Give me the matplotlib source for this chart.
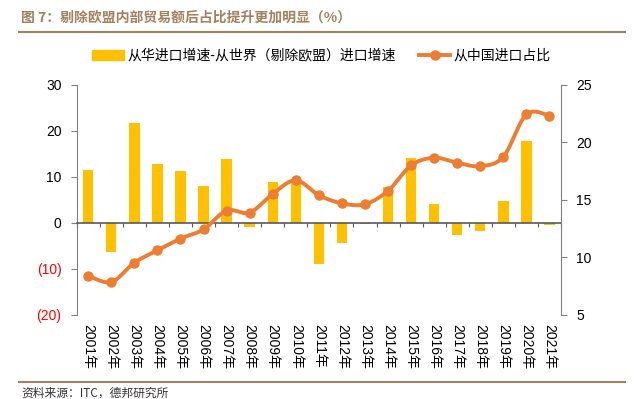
import numpy as np
import matplotlib
matplotlib.use("Agg")
import matplotlib.pyplot as plt
from matplotlib.lines import Line2D
from matplotlib.patches import Patch

plt.rcParams['font.family'] = ['Liberation Sans', 'Noto Sans CJK SC', 'DejaVu Sans']

# 数据
years = [f"{y}年" for y in range(2001, 2022)]
growth_diff = [11.4, -6.3, 21.7, 12.7, 11.2, 8.0, 13.9, -1.0, 8.8, 9.2, -9.0,
               -4.4, -0.3, 7.8, 14.0, 4.0, -2.6, -1.8, 4.7, 17.7, -0.6]
china_share = [8.38, 7.83, 9.51, 10.59, 11.61, 12.42, 14.06, 13.88, 15.51, 16.70, 15.39,
               14.69, 14.61, 15.78, 17.99, 18.66, 18.22, 17.93, 18.75, 22.44, 22.33]
left_ticks = [30, 20, 10, 0, -10, -20]
right_ticks = [25, 20, 15, 10, 5]

bar_label = "从华进口增速-从世界（剔除欧盟）进口增速"
line_label = "从中国进口占比"
title = "图 7：剔除欧盟内部贸易额后占比提升更加明显（%）"
source = "资料来源：ITC，德邦研究所"

BAR = "#FFC000"
LINE = "#ED7D31"
BROWN = "#A3805E"


def smooth(xs, ys, n=20):
    # Excel 风格的平滑折线 (Catmull-Rom -> Bezier)
    p = np.column_stack([xs, ys]).astype(float)
    p = np.vstack([p[0], p, p[-1]])
    out = []
    t = np.linspace(0, 1, n)[:, None]
    for i in range(1, len(p) - 2):
        p0, p1, p2, p3 = p[i - 1], p[i], p[i + 1], p[i + 2]
        c1 = p1 + (p2 - p0) / 6
        c2 = p2 - (p3 - p1) / 6
        seg = ((1 - t) ** 3) * p1 + 3 * ((1 - t) ** 2) * t * c1 + 3 * (1 - t) * t ** 2 * c2 + t ** 3 * p2
        out.append(seg if i == 1 else seg[1:])
    out = np.vstack(out)
    return out[:, 0], out[:, 1]


fig = plt.figure(figsize=(6.37, 3.99), dpi=100)
W, H = 637, 399
ax = fig.add_axes([76.7 / W, 1 - 314.5 / H, (561 - 76.7) / W, (314.5 - 85) / H])
ax2 = ax.twinx()

x = np.arange(len(years))
ax.bar(x, growth_diff, width=0.45, color=BAR, zorder=2)
ax.set_xlim(-0.5, len(years) - 0.5)
ax.set_ylim(-20, 30)

sx, sy = smooth(x, china_share)
ax2.plot(sx, sy, color=LINE, lw=2.8, solid_capstyle='round', zorder=3)
ax2.plot(x, china_share, 'o', color=LINE, ms=6.5, zorder=4)
ax2.set_ylim(5, 25)

# 坐标轴样式
for s in ['top', 'right']:
    ax.spines[s].set_visible(False)
for s in ['top', 'left', 'bottom']:
    ax2.spines[s].set_visible(False)
ax.spines['left'].set_color('#808080')
ax2.spines['right'].set_color('#808080')
ax.spines['bottom'].set_position(('data', 0))
ax.spines['bottom'].set_color('#595959')
ax.spines['bottom'].set_linewidth(1.2)
ax.spines['bottom'].set_zorder(5)

ax.set_xticks(np.arange(-0.5, len(years), 1))
ax.set_xticklabels([])
ax.tick_params(axis='x', direction='out', length=3, color='#595959')

ax.set_yticks(left_ticks)
ax.set_yticklabels([f"({abs(v)})" if v < 0 else str(v) for v in left_ticks])
for lab, v in zip(ax.get_yticklabels(), left_ticks):
    lab.set_color('red' if v < 0 else 'black')
ax.tick_params(axis='y', length=4, color='#808080', labelsize=10, pad=7)

ax2.set_yticks(right_ticks)
ax2.tick_params(axis='y', length=4, color='#808080', labelsize=10, pad=7)

# 横轴标签（竖排）
for xi, lab in zip(x, years):
    ax.text(xi, -0.043, lab, transform=ax.get_xaxis_transform(), rotation=270,
            ha='center', va='top', fontsize=10)

# 图例
handles = [Patch(color=BAR),
           Line2D([0], [0], color=LINE, lw=2.8, marker='o', ms=6.5)]
fig.legend(handles, [bar_label, line_label], loc='center', bbox_to_anchor=(0.505, 1 - 55.5 / H),
           ncol=2, frameon=False, prop={'family': ['Noto Sans CJK SC'], 'size': 10},
           handlelength=2.25, handletextpad=0.25, columnspacing=1.7)

# 标题和来源
fig.text(20.7 / W, 1 - 18 / H, title, fontsize=10, color=BROWN, fontweight='bold',
         va='center', ha='left', family=['Noto Sans CJK SC'])
fig.add_artist(Line2D([19 / W, 625 / W], [1 - 32.3 / H] * 2, color=BROWN, lw=1.5))
fig.add_artist(Line2D([19 / W, 625 / W], [1 - 381.7 / H] * 2, color=BROWN, lw=1.5))
fig.text(21 / W, 1 - 386.5 / H, source, fontsize=8.5, color='#333333', va='top', ha='left',
         family=['Noto Sans CJK SC'])

fig.savefig("out.png", dpi=100)
